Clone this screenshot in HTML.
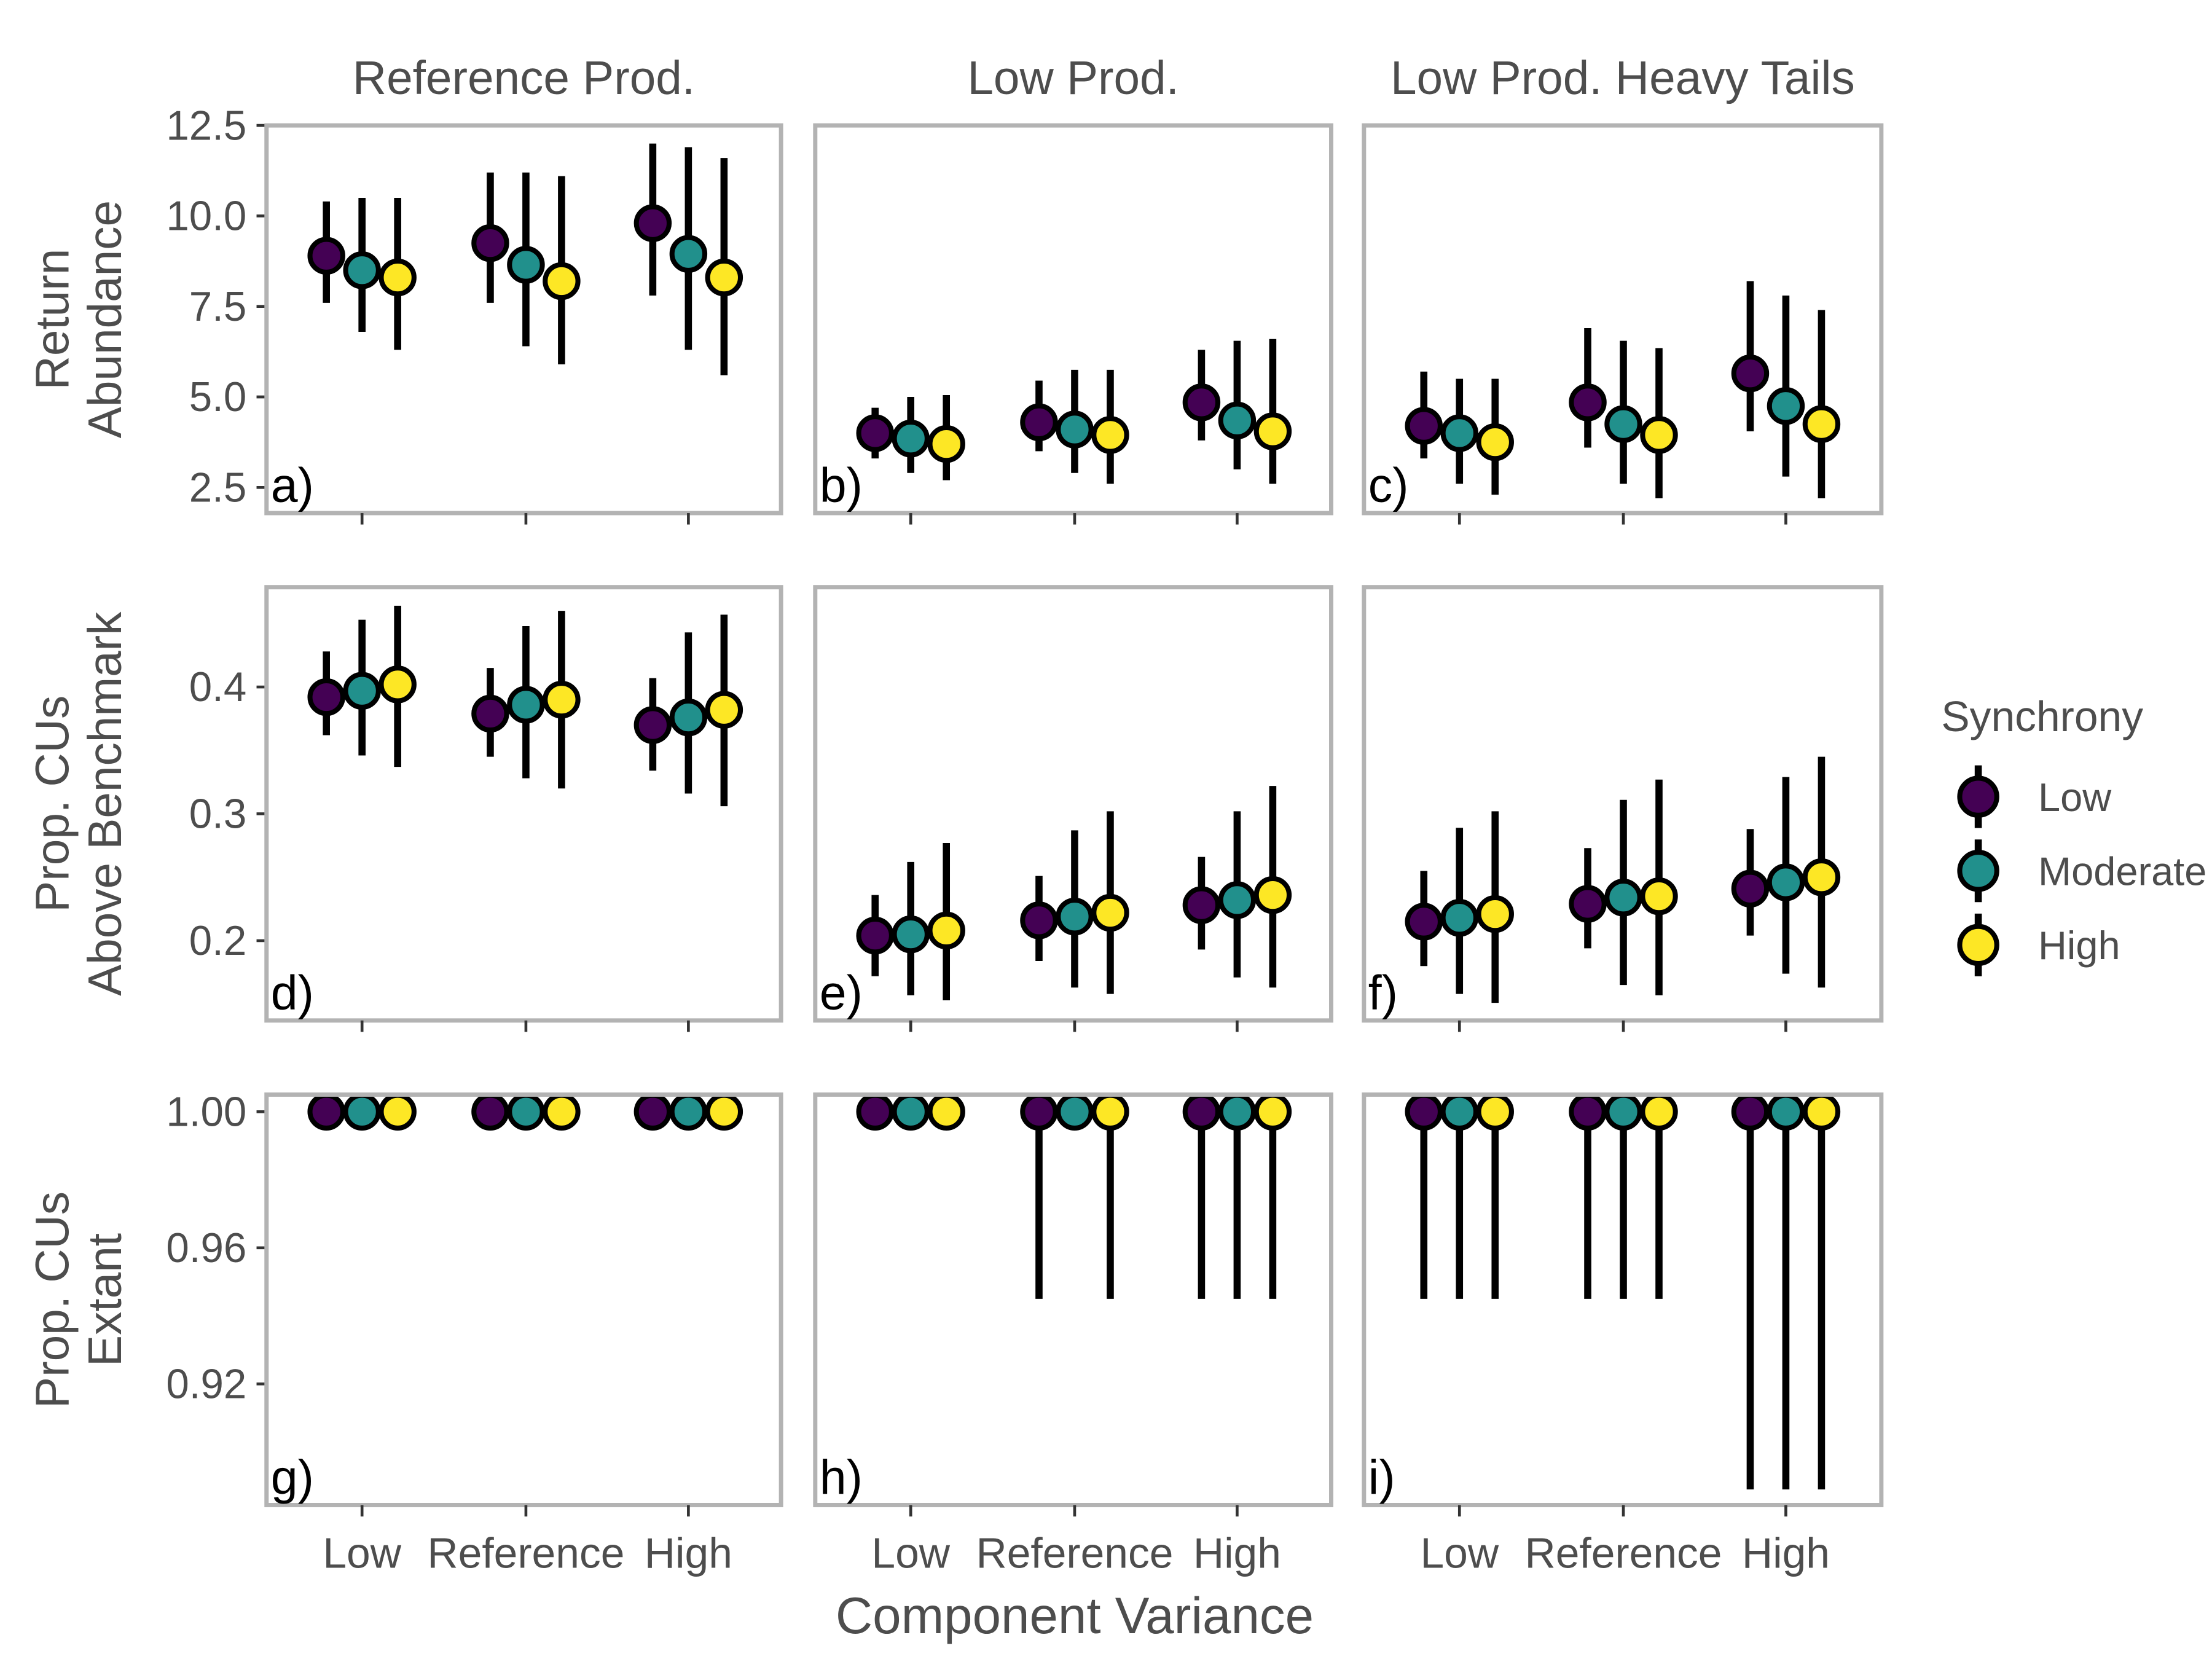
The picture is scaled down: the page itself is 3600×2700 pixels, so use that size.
<!DOCTYPE html>
<html><head><meta charset="utf-8"><style>html,body{margin:0;padding:0;background:#fff}svg{display:block}</style></head>
<body>
<svg id="chart" xmlns="http://www.w3.org/2000/svg" width="3600" height="2700" viewBox="0 0 1552 1164" font-family="Liberation Sans, sans-serif">
<rect width="1552" height="1164" fill="#fff"/>
<g id="root"></g>
</svg>
<script>
const facetTitles = ["Reference Prod.", "Low Prod.", "Low Prod. Heavy Tails"];
const categories = ["Low", "Reference", "High"];
const seriesNames = ["Low", "Moderate", "High"];
const seriesColors = ["#440154", "#21908C", "#FDE725"];
const panelLabels = [["a)","b)","c)"],["d)","e)","f)"],["g)","h)","i)"]];
const row1Ticks = [2.5, 5.0, 7.5, 10.0, 12.5];
const row2Ticks = [0.2, 0.3, 0.4];
const row3Ticks = [0.92, 0.96, 1.00];
// [panel][category][series] = [mean, lo, hi]
const abundance = [
 [[[8.9,7.6,10.4],[8.5,6.8,10.5],[8.3,6.3,10.5]],[[9.25,7.6,11.2],[8.65,6.4,11.2],[8.2,5.9,11.1]],[[9.8,7.8,12.0],[8.95,6.3,11.9],[8.3,5.6,11.6]]],
 [[[4.0,3.3,4.7],[3.85,2.9,5.0],[3.7,2.7,5.05]],[[4.3,3.5,5.45],[4.1,2.9,5.75],[3.95,2.6,5.75]],[[4.85,3.8,6.3],[4.35,3.0,6.55],[4.05,2.6,6.6]]],
 [[[4.2,3.3,5.7],[4.0,2.6,5.5],[3.75,2.3,5.5]],[[4.85,3.6,6.9],[4.25,2.6,6.55],[3.95,2.2,6.35]],[[5.65,4.05,8.2],[4.75,2.8,7.8],[4.25,2.2,7.4]]]
];
const propAbove = [
 [[[.392,.362,.428],[.397,.346,.453],[.402,.337,.464]],[[.379,.345,.415],[.386,.328,.448],[.390,.320,.460]],[[.370,.334,.407],[.376,.316,.443],[.382,.306,.457]]],
 [[[.204,.172,.236],[.205,.157,.262],[.208,.153,.277]],[[.216,.184,.251],[.219,.163,.287],[.222,.158,.302]],[[.228,.193,.266],[.232,.171,.302],[.236,.163,.322]]],
 [[[.215,.180,.255],[.218,.158,.289],[.221,.151,.302]],[[.229,.194,.273],[.234,.165,.311],[.235,.157,.327]],[[.241,.204,.288],[.246,.174,.329],[.250,.163,.345]]]
];
const propExtant = [
 [[[1,1,1],[1,1,1],[1,1,1]],[[1,1,1],[1,1,1],[1,1,1]],[[1,1,1],[1,1,1],[1,1,1]]],
 [[[1,1,1],[1,1,1],[1,1,1]],[[1,.945,1],[1,1,1],[1,.945,1]],[[1,.945,1],[1,.945,1],[1,.945,1]]],
 [[[1,.945,1],[1,.945,1],[1,.945,1]],[[1,.945,1],[1,.945,1],[1,.945,1]],[[1,.889,1],[1,.889,1],[1,.889,1]]]
];

const NS="http://www.w3.org/2000/svg";
const root=document.getElementById('root');
function mk(tag,attrs,parent,text){const e=document.createElementNS(NS,tag);for(const k in attrs)e.setAttribute(k,attrs[k]);if(text!==undefined)e.textContent=text;(parent||root).appendChild(e);return e;}
const colX=[[187,548],[572,934],[957,1320]];
const rows=[
 {top:88,bot:360,vTop:12.5,vBot:2.5,yTop:88,yBot:342,ticks:row1Ticks,fmt:v=>v.toFixed(1),data:abundance,title:["Return","Abundance"]},
 {top:412,bot:716,vTop:0.4,vBot:0.2,yTop:482,yBot:660,ticks:row2Ticks,fmt:v=>v.toFixed(1),data:propAbove,title:["Prop. CUs","Above Benchmark"]},
 {top:768,bot:1056,vTop:1.0,vBot:0.92,yTop:780,yBot:971,ticks:row3Ticks,fmt:v=>v.toFixed(2),data:propExtant,title:["Prop. CUs","Extant"]}
];
const catOff=[67,182,296], dodge=[-25,0,25];
const gray="#4d4d4d";
facetTitles.forEach((t,c)=>{
 const e=mk('text',{x:(colX[c][0]+colX[c][1])/2,y:66,'text-anchor':'middle','font-size':33,fill:gray},root,t);
 
 
});
rows.forEach((r,ri)=>{
 const yS=v=>r.yTop+(v-r.vTop)*(r.yBot-r.yTop)/(r.vBot-r.vTop);
 const cy=(r.top+r.bot)/2;
 r.title.forEach((ln,li)=>{
  const e=mk('text',{x:0,y:0,transform:`translate(${48+li*37},${cy}) rotate(-90)`,'text-anchor':'middle','font-size':33,fill:gray},root,ln);
  
  
 });
 r.ticks.forEach(t=>{
  const y=yS(t);
  mk('line',{x1:180,x2:187,y1:y,y2:y,stroke:'#333','stroke-width':2});
  const e=mk('text',{x:173,y:y+10,'text-anchor':'end','font-size':29,fill:gray},root,r.fmt(t));
  
  
 });
 for(let c=0;c<3;c++){
  const [x0,x1]=colX[c];
  const g=mk('g',{});
  
  
  const cp='cp'+ri+c;
  const cl=mk('clipPath',{id:cp},g);mk('rect',{x:x0,y:r.top,width:x1-x0,height:r.bot-r.top},cl);
  const inner=mk('g',{'clip-path':`url(#${cp})`},g);
  r.data[c].forEach((cat,ci)=>{
   cat.forEach((d,si)=>{
    const x=x0+catOff[ci]+dodge[si];
    const bar=mk('line',{x1:x,x2:x,y1:yS(d[1]),y2:yS(d[2]),stroke:'#000','stroke-width':5},inner);
    
    
   });
   cat.forEach((d,si)=>{
    const x=x0+catOff[ci]+dodge[si];
    const p=mk('circle',{cx:x,cy:yS(d[0]),r:11.5,fill:seriesColors[si],stroke:'#000','stroke-width':3.5},inner);
    
    
   });
  });
  mk('rect',{x:x0,y:r.top,width:x1-x0,height:r.bot-r.top,fill:'none',stroke:'#b3b3b3','stroke-width':3},g);
  const pl=mk('text',{x:x0+3,y:r.bot-8,'font-size':34,fill:'#000'},g,panelLabels[ri][c]);
  
  
  catOff.forEach(o=>mk('line',{x1:x0+o,x2:x0+o,y1:r.bot,y2:r.bot+8,stroke:'#333','stroke-width':2},g));
  if(ri===2){
   categories.forEach((cn,ci)=>{
    const e=mk('text',{x:x0+catOff[ci],y:1100,'text-anchor':'middle','font-size':30,fill:gray},g,cn);
    
    
   });
  }
 }
});
const xt=mk('text',{x:754,y:1146,'text-anchor':'middle','font-size':36,fill:gray},root,'Component Variance');


const lg=mk('g',{});


const lt=mk('text',{x:1362,y:513,'font-size':30,fill:gray},lg,'Synchrony');


seriesNames.forEach((n,i)=>{
 const y=559+i*52;
 const k=mk('g',{},lg);
 
 
 mk('line',{x1:1388,x2:1388,y1:y-22,y2:y+22,stroke:'#000','stroke-width':5},k);
 mk('circle',{cx:1388,cy:y,r:13,fill:seriesColors[i],stroke:'#000','stroke-width':3.5},k);
 mk('text',{x:1430,y:y+10,'font-size':28,fill:gray},k,n);
});
</script>
</body></html>
